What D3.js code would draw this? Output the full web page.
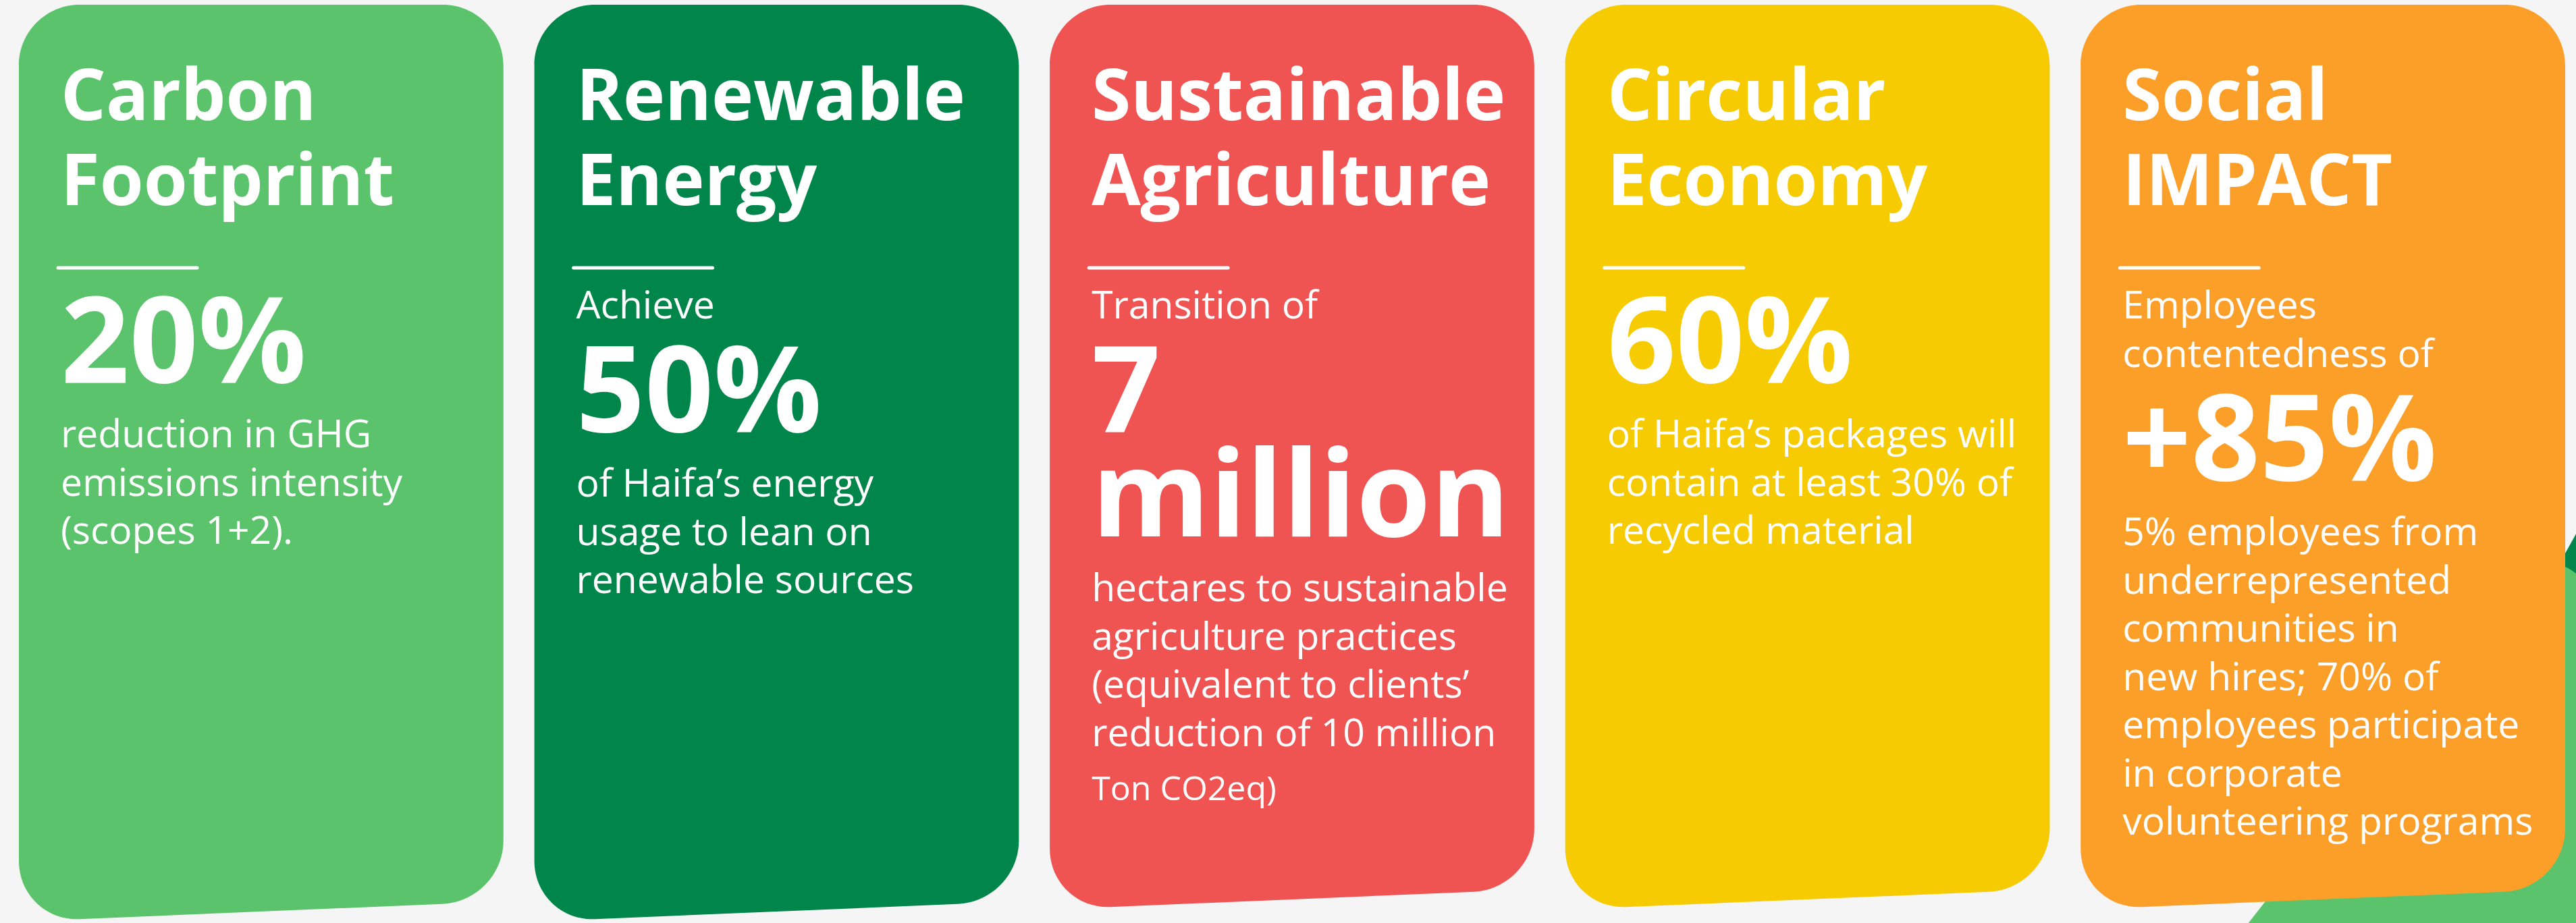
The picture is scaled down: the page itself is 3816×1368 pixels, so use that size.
<!DOCTYPE html>
<html>
<head>
<meta charset="utf-8">
<script src="https://cdnjs.cloudflare.com/ajax/libs/d3/7.8.5/d3.min.js"></script>
<style>
body{margin:0;background:#f5f5f5;overflow:hidden;}
text{font-family:'Open Sans',sans-serif;fill:#fff;}
</style>
</head>
<body>
<div id="svgWrapper"></div>
<script>
// one card per sustainability pillar
var pillars = ["carbon","energy","agriculture","circular","social"];
var titles = [["Carbon","Footprint"],["Renewable","Energy"],["Sustainable","Agriculture"],["Circular","Economy"],["Social","IMPACT"]];
var leadIns = [[],["Achieve"],["Transition of"],[],["Employees","contentedness of"]];
var figures = [["20%"],["50%"],["7","million"],["60%"],["+85%"]];
var notes = [
  ["reduction in GHG","emissions intensity","(scopes 1+2)."],
  ["of Haifa\u2019s energy","usage to lean on","renewable sources"],
  ["hectares to sustainable","agriculture practices","(equivalent to clients\u2019","reduction of 10 million"],
  ["of Haifa\u2019s packages will","contain at least 30% of","recycled material"],
  ["5% employees from","underrepresented","communities in","new hires; 70% of","employees participate","in corporate","volunteering programs"]
];
var footnotes = ["","","Ton CO2eq)","",""];
var colors = ["#5bc36b","#00854a","#f05452","#f7cb02","#fc9f29"];

var widthX = 3816;
var widthY = 1368;
var radius = 90;
var titleSize = 105, figureSize = 178, noteSize = 57, footSize = 50;

var x = d3.scaleBand()
  .domain(pillars)
  .range([28, 3800])
  .paddingInner(0.06)
  .paddingOuter(0);

function toward(v, p, r){
  var dx = p[0]-v[0], dy = p[1]-v[1];
  var len = Math.sqrt(dx*dx+dy*dy);
  return [v[0]+dx/len*r, v[1]+dy/len*r];
}

//polygon with every corner rounded (cubic approx of a circle arc)
function roundedPath(pts, r){
  var k = 0.552;
  var n = pts.length;
  var d = "";
  for(var i=0;i<n;i++){
    var p = pts[(i+n-1)%n], v = pts[i], q = pts[(i+1)%n];
    var a = toward(v,p,r), b = toward(v,q,r);
    d += (i==0 ? "M" : "L") + a[0] + "," + a[1];
    d += "C" + (a[0]+(v[0]-a[0])*k) + "," + (a[1]+(v[1]-a[1])*k) + " "
      + (b[0]+(v[0]-b[0])*k) + "," + (b[1]+(v[1]-b[1])*k) + " "
      + b[0] + "," + b[1];
  }
  return d + "Z";
}

var svgContext = d3.select("#svgWrapper").append("svg")
  .attr("width", widthX)
  .attr("height", widthY);

svgContext.append("rect")
  .attr("width", widthX)
  .attr("height", widthY)
  .attr("fill", "#f5f5f5");

//green leaves peeking out behind the last card
var square = [[0,0],[1000,0],[1000,1000],[0,1000]];
svgContext.append("path")
  .attr("d", roundedPath(square, 60))
  .attr("transform", "translate(3850,730) rotate(29)")
  .attr("fill", colors[1]);
svgContext.append("path")
  .attr("d", roundedPath(square, 60))
  .attr("transform", "translate(3766,811) rotate(38)")
  .attr("fill", colors[0]);

var cards = svgContext.selectAll("g.card")
  .data(pillars)
  .enter()
  .append("g")
  .attr("class", "card");

cards.append("path")
  .attr("d", function(d,i){
    var x0 = x(d), x1 = x(d) + x.bandwidth();
    var drop = i < 2 ? 18 : 0;
    return roundedPath([[x0,7],[x1,7],[x1,1318+drop],[x0,1348+drop]], radius);
  })
  .attr("fill", function(d,i){ return colors[i]; });

cards.each(function(d,i){
  var g = d3.select(this);
  var left = x(d) + 62;

  titles[i].forEach(function(t,j){
    g.append("text")
      .attr("x", left)
      .attr("y", 178 + j*126)
      .attr("font-size", titleSize)
      .attr("font-weight", 700)
      .text(t);
  });

  var sepY = 397;
  g.append("line")
    .attr("x1", left-4)
    .attr("x2", left+202)
    .attr("y1", sepY)
    .attr("y2", sepY)
    .attr("stroke", "#fff")
    .attr("stroke-width", 5)
    .attr("stroke-linecap", "round");

  var y = sepY;
  leadIns[i].forEach(function(t,j){
    y = sepY + 75 + j*72;
    g.append("text")
      .attr("x", left)
      .attr("y", y)
      .attr("font-size", noteSize)
      .text(t);
  });

  var figY = leadIns[i].length ? y + 168 : sepY + 170;
  figures[i].forEach(function(t,j){
    y = figY + j*155;
    g.append("text")
      .attr("x", left)
      .attr("y", y)
      .attr("font-size", figureSize)
      .attr("font-weight", 700)
      .text(t);
  });

  var noteY = y + 96;
  notes[i].forEach(function(t,j){
    y = noteY + j*71.5;
    g.append("text")
      .attr("x", left)
      .attr("y", y)
      .attr("font-size", noteSize)
      .text(t);
  });

  if(footnotes[i] != ""){
    g.append("text")
      .attr("x", left)
      .attr("y", y + 80)
      .attr("font-size", footSize)
      .text(footnotes[i]);
  }
});
</script>
</body>
</html>
